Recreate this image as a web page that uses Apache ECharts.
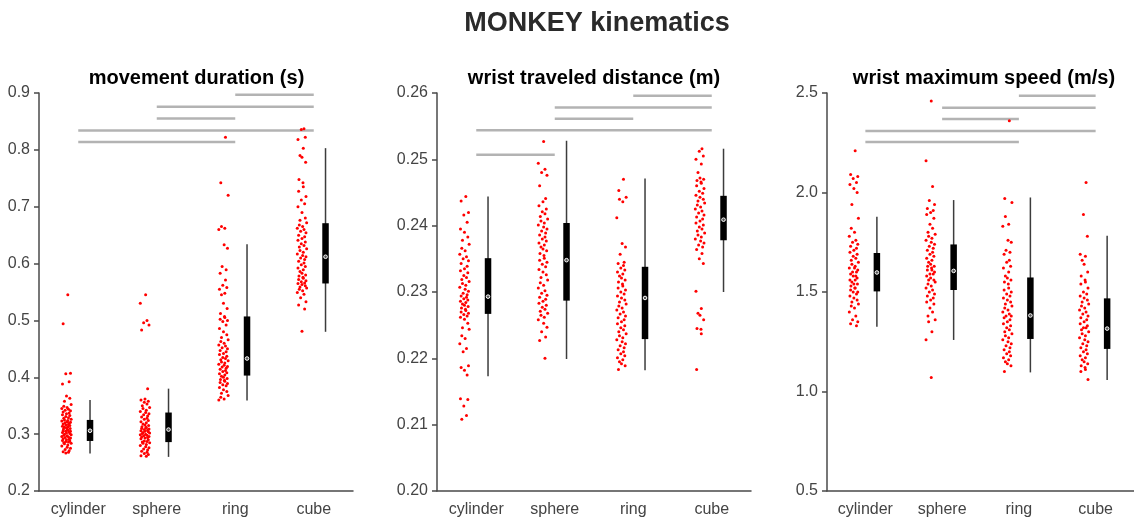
<!DOCTYPE html>
<html>
<head>
<meta charset="utf-8">
<script src="https://cdn.jsdelivr.net/npm/echarts@6/dist/echarts.min.js"></script>
<style>html,body{margin:0;padding:0;background:#fff;}#c{width:1134px;height:520px;}</style>
</head>
<body>
<div id="c"></div>
<script>
const categories = ['cylinder', 'sphere', 'ring', 'cube'];
const mainTitle = 'MONKEY kinematics';
const panelTitles = ['movement duration (s)', 'wrist traveled distance (m)', 'wrist maximum speed (m/s)'];

// per-point horizontal jitter (fraction of category spacing), typed
const jitter = [0.02,-0.05,0.06,-0.01,0.04,-0.06,0.00,0.05,-0.03,0.07,-0.04,0.01,-0.07,0.03,-0.02,0.06,-0.05,0.04,0.00,-0.06,0.05,-0.01,0.03,-0.04,0.07,-0.03,0.02,-0.07,0.01,0.06,-0.02,0.04,-0.05,0.03,-0.01,0.05,-0.06,0.02,-0.03,0.00,0.055,-0.045,0.015];

// movement duration (s)
const durCylinder = [0.545,0.494,0.407,0.406,0.392,0.388,0.367,0.363,0.358,0.352,0.349,0.347,0.345,0.344,0.342,0.341,0.339,0.337,0.336,0.334,0.333,0.331,0.329,0.328,0.326,0.325,0.324,0.323,0.322,0.321,0.320,0.319,0.318,0.317,0.316,0.315,0.314,0.313,0.312,0.311,0.310,0.309,0.308,0.307,0.306,0.305,0.305,0.304,0.303,0.302,0.301,0.300,0.299,0.298,0.297,0.296,0.295,0.294,0.293,0.292,0.291,0.290,0.289,0.288,0.287,0.286,0.285,0.284,0.283,0.281,0.279,0.277,0.275,0.273,0.271,0.269,0.268,0.267];
const durSphere = [0.545,0.530,0.500,0.496,0.492,0.483,0.380,0.362,0.360,0.358,0.356,0.353,0.350,0.347,0.345,0.342,0.340,0.338,0.336,0.334,0.332,0.330,0.328,0.326,0.324,0.322,0.320,0.318,0.316,0.315,0.313,0.312,0.311,0.310,0.309,0.308,0.307,0.306,0.305,0.304,0.303,0.302,0.301,0.300,0.299,0.298,0.297,0.296,0.295,0.294,0.293,0.292,0.290,0.288,0.287,0.286,0.285,0.284,0.282,0.280,0.278,0.276,0.274,0.272,0.270,0.268,0.266,0.264,0.262,0.261];
const durRing = [0.822,0.742,0.720,0.665,0.662,0.660,0.633,0.627,0.595,0.589,0.583,0.571,0.562,0.558,0.555,0.548,0.545,0.530,0.521,0.512,0.507,0.505,0.502,0.500,0.498,0.492,0.486,0.480,0.475,0.470,0.466,0.463,0.460,0.457,0.455,0.452,0.450,0.447,0.445,0.442,0.440,0.437,0.435,0.433,0.431,0.429,0.427,0.425,0.423,0.421,0.419,0.418,0.416,0.414,0.412,0.410,0.408,0.406,0.404,0.402,0.400,0.398,0.396,0.395,0.393,0.391,0.389,0.387,0.385,0.382,0.378,0.375,0.372,0.368,0.365,0.362,0.360];
const durCube = [0.837,0.836,0.822,0.818,0.803,0.790,0.787,0.778,0.748,0.742,0.735,0.727,0.718,0.712,0.705,0.700,0.690,0.680,0.676,0.672,0.668,0.665,0.662,0.660,0.657,0.654,0.650,0.647,0.644,0.641,0.638,0.635,0.632,0.629,0.626,0.623,0.620,0.617,0.614,0.612,0.610,0.607,0.604,0.601,0.598,0.595,0.592,0.589,0.586,0.583,0.580,0.578,0.576,0.574,0.572,0.570,0.568,0.566,0.565,0.563,0.561,0.559,0.557,0.555,0.552,0.549,0.546,0.540,0.533,0.527,0.520,0.481];

// wrist traveled distance (m)
const distCylinder = [0.2444,0.2437,0.2420,0.2416,0.2405,0.2395,0.2390,0.2383,0.2378,0.2372,0.2366,0.2362,0.2357,0.2353,0.2350,0.2347,0.2343,0.2339,0.2335,0.2332,0.2329,0.2325,0.2322,0.2319,0.2316,0.2313,0.2310,0.2307,0.2304,0.2301,0.2298,0.2296,0.2294,0.2292,0.2290,0.2288,0.2286,0.2284,0.2282,0.2280,0.2278,0.2276,0.2274,0.2272,0.2270,0.2268,0.2266,0.2264,0.2262,0.2259,0.2253,0.2246,0.2244,0.2234,0.2230,0.2222,0.2215,0.2210,0.2189,0.2186,0.2175,0.2182,0.2139,0.2138,0.2128,0.2114,0.2108];
const distSphere = [0.2527,0.2494,0.2485,0.2480,0.2476,0.2460,0.2441,0.2436,0.2430,0.2425,0.2421,0.2418,0.2414,0.2410,0.2407,0.2404,0.2401,0.2398,0.2395,0.2392,0.2389,0.2386,0.2383,0.2380,0.2377,0.2374,0.2371,0.2368,0.2365,0.2362,0.2358,0.2355,0.2351,0.2348,0.2345,0.2342,0.2338,0.2334,0.2330,0.2326,0.2322,0.2318,0.2314,0.2310,0.2306,0.2302,0.2298,0.2295,0.2292,0.2289,0.2286,0.2283,0.2280,0.2277,0.2274,0.2271,0.2268,0.2265,0.2262,0.2258,0.2253,0.2247,0.2240,0.2232,0.2227,0.2200];
const distRing = [0.2470,0.2453,0.2443,0.2440,0.2436,0.2412,0.2373,0.2368,0.2357,0.2345,0.2343,0.2340,0.2336,0.2333,0.2330,0.2327,0.2324,0.2321,0.2318,0.2315,0.2312,0.2309,0.2306,0.2303,0.2300,0.2297,0.2294,0.2291,0.2288,0.2285,0.2282,0.2279,0.2276,0.2273,0.2270,0.2267,0.2264,0.2261,0.2258,0.2255,0.2252,0.2249,0.2246,0.2243,0.2240,0.2237,0.2234,0.2231,0.2228,0.2225,0.2222,0.2219,0.2216,0.2213,0.2210,0.2207,0.2204,0.2201,0.2198,0.2195,0.2192,0.2189,0.2183];
const distCube = [0.2516,0.2512,0.2505,0.2500,0.2493,0.2480,0.2472,0.2470,0.2468,0.2466,0.2464,0.2460,0.2456,0.2452,0.2449,0.2446,0.2443,0.2440,0.2437,0.2434,0.2431,0.2428,0.2425,0.2422,0.2419,0.2416,0.2413,0.2410,0.2407,0.2404,0.2401,0.2398,0.2395,0.2392,0.2389,0.2386,0.2383,0.2380,0.2377,0.2374,0.2371,0.2368,0.2364,0.2358,0.2350,0.2343,0.2301,0.2275,0.2268,0.2265,0.2258,0.2245,0.2244,0.2237,0.2183];

// wrist maximum speed (m/s)
const speedCylinder = [2.21,2.09,2.08,2.07,2.05,2.04,2.02,2.00,1.94,1.87,1.82,1.80,1.78,1.76,1.75,1.74,1.73,1.72,1.71,1.70,1.69,1.68,1.67,1.66,1.65,1.64,1.63,1.62,1.62,1.61,1.60,1.60,1.59,1.58,1.58,1.57,1.56,1.56,1.55,1.54,1.54,1.53,1.52,1.52,1.51,1.50,1.50,1.49,1.48,1.47,1.46,1.45,1.44,1.43,1.42,1.40,1.38,1.36,1.35,1.34,1.33];
const speedSphere = [2.46,2.16,2.03,1.96,1.94,1.92,1.91,1.90,1.89,1.87,1.84,1.82,1.80,1.79,1.78,1.77,1.76,1.75,1.74,1.73,1.72,1.71,1.70,1.69,1.68,1.67,1.66,1.65,1.64,1.63,1.63,1.62,1.61,1.61,1.60,1.59,1.59,1.58,1.57,1.56,1.56,1.55,1.54,1.53,1.52,1.51,1.50,1.49,1.48,1.47,1.46,1.45,1.44,1.42,1.40,1.38,1.36,1.35,1.30,1.26,1.07];
const speedRing = [2.36,1.97,1.95,1.88,1.84,1.83,1.76,1.75,1.71,1.70,1.69,1.66,1.65,1.63,1.62,1.60,1.58,1.57,1.56,1.55,1.54,1.52,1.51,1.50,1.49,1.48,1.47,1.46,1.45,1.44,1.43,1.42,1.41,1.40,1.39,1.38,1.38,1.37,1.36,1.35,1.34,1.33,1.32,1.31,1.30,1.29,1.28,1.27,1.26,1.25,1.24,1.23,1.22,1.21,1.20,1.19,1.18,1.17,1.16,1.15,1.14,1.13,1.10];
const speedCube = [2.05,1.89,1.78,1.69,1.68,1.66,1.64,1.60,1.58,1.56,1.55,1.54,1.52,1.50,1.49,1.48,1.47,1.46,1.45,1.44,1.43,1.42,1.41,1.40,1.39,1.38,1.37,1.36,1.35,1.34,1.33,1.32,1.32,1.31,1.30,1.29,1.28,1.27,1.26,1.25,1.24,1.23,1.22,1.21,1.20,1.19,1.18,1.17,1.16,1.15,1.14,1.13,1.12,1.11,1.10,1.06];

// box summaries: [whiskerLow, q1, median, q3, whiskerHigh] per category
const durBoxes = [[0.266,0.288,0.306,0.325,0.360],[0.260,0.286,0.308,0.338,0.380],[0.359,0.403,0.433,0.507,0.634],[0.480,0.565,0.612,0.671,0.803]];
const distBoxes = [[0.2173,0.2267,0.2293,0.2351,0.2444],[0.2199,0.2287,0.2348,0.2404,0.2528],[0.2182,0.2229,0.2291,0.2338,0.2471],[0.2300,0.2378,0.2409,0.2445,0.2516]];
const speedBoxes = [[1.326,1.503,1.598,1.696,1.878],[1.259,1.510,1.606,1.739,1.962],[1.096,1.264,1.382,1.573,1.975],[1.058,1.214,1.316,1.468,1.783]];

// significance bars: [fromCategory (1-based), toCategory, y]
const durSig = [[3,4,0.897],[2,4,0.876],[2,3,0.855],[1,4,0.834],[1,3,0.814]];
const distSig = [[3,4,0.2596],[2,4,0.2578],[2,3,0.2561],[1,4,0.2544],[1,2,0.2507]];
const speedSig = [[3,4,2.486],[2,4,2.426],[2,3,2.369],[1,4,2.309],[1,3,2.254]];

// y-axis ranges
const durAxis = {min: 0.2, max: 0.9, interval: 0.1, digits: 1};
const distAxis = {min: 0.20, max: 0.26, interval: 0.01, digits: 2};
const speedAxis = {min: 0.5, max: 2.5, interval: 0.5, digits: 1};

const panels = [
  {points: [durCylinder, durSphere, durRing, durCube], boxes: durBoxes, sig: durSig, axis: durAxis},
  {points: [distCylinder, distSphere, distRing, distCube], boxes: distBoxes, sig: distSig, axis: distAxis},
  {points: [speedCylinder, speedSphere, speedRing, speedCube], boxes: speedBoxes, sig: speedSig, axis: speedAxis}
];

const FONT = '"Liberation Sans", Arial, Helvetica, sans-serif';
const gridLefts = [39, 437, 827];
const gridWidth = 314;
const titleCenters = [196.5, 594, 984];
const axisColor = '#4a4a4a';
const labelColor = '#444';
const jitterScale = 0.85;

const chart = echarts.init(document.getElementById('c'), null, {renderer: 'canvas'});
const grid = [], xAxis = [], yAxis = [], series = [], graphic = [];

graphic.push({type: 'text', x: 597, y: 24, style: {text: mainTitle, font: 'bold 27px ' + FONT, fill: '#2a2a2a', align: 'center', verticalAlign: 'middle'}});

panels.forEach((p, pi) => {
  grid.push({left: gridLefts[pi], top: 93, width: gridWidth, height: 398, containLabel: false});
  graphic.push({type: 'text', x: titleCenters[pi], y: 78, style: {text: panelTitles[pi], font: 'bold 20px ' + FONT, fill: '#000', align: 'center', verticalAlign: 'middle'}});
  xAxis.push({
    type: 'category', gridIndex: pi, data: categories, boundaryGap: true,
    axisLine: {lineStyle: {color: axisColor, width: 1.5}},
    axisTick: {alignWithLabel: true, length: 5, lineStyle: {color: axisColor, width: 1.5}},
    axisLabel: {fontSize: 16, color: labelColor, fontFamily: FONT, margin: 11},
    splitLine: {show: false}
  });
  xAxis.push({type: 'value', gridIndex: pi, min: 0.5, max: 4.5, show: false});
  const ax = p.axis;
  yAxis.push({
    type: 'value', gridIndex: pi, min: ax.min, max: ax.max, interval: ax.interval,
    axisLine: {show: true, lineStyle: {color: axisColor, width: 1.5}},
    axisTick: {show: true, length: 5, lineStyle: {color: axisColor, width: 1.5}},
    axisLabel: {fontSize: 16, color: labelColor, fontFamily: FONT, margin: 9,
      formatter: v => Number(v).toFixed(ax.digits)},
    splitLine: {show: false}
  });

  // scatter points
  const pts = [];
  p.points.forEach((arr, ci) => {
    arr.forEach((v, k) => {
      const j = jitter[(k + ci * 11) % jitter.length] * jitterScale;
      pts.push([ci + 1 - 0.15 + j, v]);
    });
  });
  series.push({
    type: 'scatter', xAxisIndex: pi * 2 + 1, yAxisIndex: pi, data: pts,
    symbolSize: 3, itemStyle: {color: '#ff0000', opacity: 1}, silent: true, z: 2
  });

  // boxes
  const boxData = p.boxes.map((b, ci) => [ci + 1 + 0.15].concat(b));
  series.push({
    type: 'custom', xAxisIndex: pi * 2 + 1, yAxisIndex: pi, data: boxData, silent: true, z: 3,
    encode: {x: 0, y: [1, 2, 3, 4, 5]},
    renderItem: (params, api) => {
      const x = api.value(0);
      const lo = api.coord([x, api.value(1)]);
      const q1 = api.coord([x, api.value(2)]);
      const md = api.coord([x, api.value(3)]);
      const q3 = api.coord([x, api.value(4)]);
      const hi = api.coord([x, api.value(5)]);
      const w = 6.5;
      return {type: 'group', children: [
        {type: 'line', shape: {x1: lo[0], y1: lo[1], x2: hi[0], y2: hi[1]}, style: {stroke: '#3c3c3c', lineWidth: 1.5}},
        {type: 'rect', shape: {x: q3[0] - w / 2, y: q3[1], width: w, height: q1[1] - q3[1]}, style: {fill: '#000'}},
        {type: 'circle', shape: {cx: md[0], cy: md[1], r: 1.8}, style: {fill: '#555', stroke: '#fff', lineWidth: 1}}
      ]};
    }
  });

  // significance bars
  series.push({
    type: 'custom', xAxisIndex: pi * 2 + 1, yAxisIndex: pi, data: p.sig, silent: true, z: 1,
    encode: {x: [0, 1], y: 2},
    renderItem: (params, api) => {
      const a = api.coord([api.value(0), api.value(2)]);
      const b = api.coord([api.value(1), api.value(2)]);
      return {type: 'line', shape: {x1: a[0], y1: a[1], x2: b[0], y2: b[1]}, style: {stroke: '#b3b3b3', lineWidth: 2.5}};
    }
  });
});

chart.setOption({
  animation: false,
  backgroundColor: '#fff',
  textStyle: {fontFamily: FONT},
  grid, xAxis, yAxis, series, graphic
});
</script>
</body>
</html>
